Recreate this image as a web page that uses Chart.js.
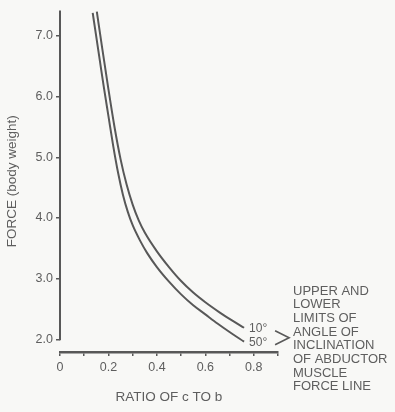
<!DOCTYPE html>
<html>
<head>
<meta charset="utf-8">
<script src="https://cdn.jsdelivr.net/npm/chart.js@4.4.1/dist/chart.umd.min.js"></script>
<style>
  html, body { margin: 0; padding: 0; background: #f8f8f6; }
  canvas { display: block; }
</style>
</head>
<body>
<canvas id="forceChart" width="395" height="412"></canvas>
<script>
// ratio of c to b and force (body weight)
const ratio10 = [0.152, 0.175, 0.20, 0.225, 0.25, 0.275, 0.30, 0.325, 0.35, 0.40, 0.45, 0.50, 0.55, 0.60, 0.66, 0.71, 0.76];
const force10 = [7.40, 6.78, 6.12, 5.50, 4.97, 4.55, 4.22, 3.96, 3.76, 3.45, 3.19, 2.96, 2.77, 2.61, 2.44, 2.31, 2.19];
const ratio50 = [0.135, 0.15, 0.165, 0.18, 0.20, 0.22, 0.24, 0.26, 0.28, 0.30, 0.33, 0.36, 0.40, 0.45, 0.50, 0.55, 0.60, 0.65, 0.70, 0.76];
const force50 = [7.38, 6.98, 6.58, 6.18, 5.68, 5.18, 4.74, 4.38, 4.10, 3.88, 3.63, 3.42, 3.19, 2.95, 2.74, 2.56, 2.41, 2.26, 2.12, 1.96];
const seriesNames = ['10°', '50°'];
const yTicks = [2, 3, 4, 5, 6, 7];
const noteLines = ['UPPER AND', 'LOWER', 'LIMITS OF', 'ANGLE OF', 'INCLINATION', 'OF ABDUCTOR', 'MUSCLE', 'FORCE LINE'];

const ink = '#585858';
const textInk = '#5e5e5e';
const font = "'Liberation Sans', Arial, sans-serif";

function toPoints(xs, ys) {
    return xs.map((x, i) => ({ x: x, y: ys[i] }));
}

// y axis line stops at 2.0, labels next to curve ends, bracket and note
const annotations = {
    id: 'annotations',
    afterDatasetsDraw(chart) {
        const ctx = chart.ctx;
        const area = chart.chartArea;
        const yScale = chart.scales.y;

        ctx.save();
        ctx.strokeStyle = ink;
        ctx.lineWidth = 2;
        ctx.beginPath();
        ctx.moveTo(area.left, area.top);
        ctx.lineTo(area.left, yScale.getPixelForValue(2) + 1);
        ctx.stroke();

        ctx.fillStyle = textInk;
        ctx.font = '12px ' + font;
        ctx.textBaseline = 'middle';
        ctx.textAlign = 'left';
        const ends = [];
        chart.data.datasets.forEach((ds, i) => {
            const pts = chart.getDatasetMeta(i).data;
            const last = pts[pts.length - 1];
            ctx.fillText(seriesNames[i], last.x + 5, last.y + 1);
            ends.push(last);
        });

        // ">" bracket
        const bx = ends[0].x + 31;
        const top = ends[0].y + 3;
        const bot = ends[1].y + 3;
        ctx.lineWidth = 1.6;
        ctx.beginPath();
        ctx.moveTo(bx, top);
        ctx.lineTo(bx + 14, (top + bot) / 2);
        ctx.lineTo(bx, bot);
        ctx.stroke();

        ctx.font = '13px ' + font;
        noteLines.forEach((line, i) => {
            ctx.fillText(line, 293, 291 + i * 13.7);
        });
        ctx.restore();
    }
};

new Chart(document.getElementById('forceChart'), {
    type: 'scatter',
    data: {
        datasets: [
            { label: seriesNames[0], data: toPoints(ratio10, force10) },
            { label: seriesNames[1], data: toPoints(ratio50, force50) }
        ].map(ds => Object.assign(ds, {
            showLine: true,
            borderColor: ink,
            borderWidth: 2,
            pointRadius: 0,
            cubicInterpolationMode: 'monotone',
            fill: false
        }))
    },
    options: {
        responsive: false,
        animation: false,
        layout: { padding: { left: 0, right: 117, top: 5, bottom: 0 } },
        plugins: {
            legend: { display: false },
            tooltip: { enabled: false }
        },
        scales: {
            x: {
                type: 'linear',
                min: 0,
                max: 0.9,
                afterFit: s => { s.height = 60; },
                border: { display: true, color: ink, width: 2.5 },
                grid: { drawOnChartArea: false, drawTicks: true, tickLength: 4, color: ink, lineWidth: 1.5 },
                ticks: {
                    stepSize: 0.1,
                    color: textInk,
                    font: { family: font, size: 12.5 },
                    padding: 4,
                    maxRotation: 0,
                    autoSkip: false,
                    callback: (v, i) => (i % 2 === 0 && v < 0.85) ? (v === 0 ? '0' : v.toFixed(1)) : ''
                },
                title: {
                    display: true,
                    text: 'RATIO OF c TO b',
                    color: textInk,
                    font: { family: font, size: 13.5 },
                    padding: { top: 0, bottom: 7 }
                }
            },
            y: {
                min: 1.79,
                max: 7.42,
                afterFit: s => { s.width = 60; },
                afterBuildTicks: s => { s.ticks = yTicks.map(v => ({ value: v })); },
                border: { display: false },
                grid: { drawOnChartArea: false, drawTicks: true, tickLength: 4, color: ink, lineWidth: 1.5 },
                ticks: {
                    color: textInk,
                    font: { family: font, size: 12.5 },
                    padding: 3,
                    callback: v => v.toFixed(1)
                },
                title: {
                    display: true,
                    text: 'FORCE (body weight)',
                    color: textInk,
                    font: { family: font, size: 13.5 },
                    padding: { top: 4, bottom: 0 }
                }
            }
        }
    },
    plugins: [annotations]
});
</script>
</body>
</html>
